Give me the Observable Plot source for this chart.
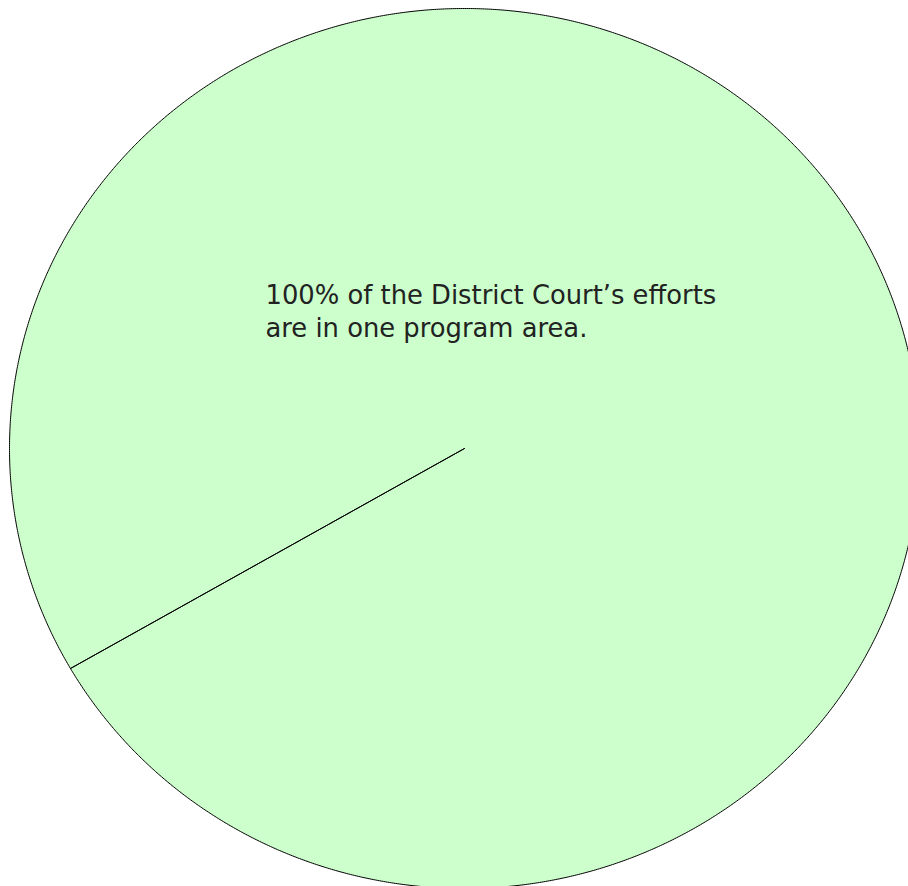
<!DOCTYPE html>
<html>
<head>
<meta charset="utf-8">
<script src="https://cdn.jsdelivr.net/npm/d3@7"></script>
<script src="https://cdn.jsdelivr.net/npm/@observablehq/plot@0.6"></script>
<style>
  html, body { margin: 0; padding: 0; background: #fff; }
  #chart { width: 908px; height: 886px; overflow: hidden; }
</style>
</head>
<body>
<div id="chart"></div>
<script>
// Data
const categories = ["District Court"];
const values = [100];
const labels = ["100% of the District Court’s efforts\nare in one program area."];
const colors = ["#ccffcc"];

// Pie layout (angles from the data)
const pie = d3.pie().sort(null).value(d => d.value)
  .startAngle(4 * Math.PI / 3).endAngle(4 * Math.PI / 3 + 2 * Math.PI);
const arcs = pie(categories.map((c, i) => ({category: c, value: values[i]})));

// Outline of each slice on the unit circle: center -> arc -> center
const slicePoints = arcs.flatMap(a => {
  const n = Math.max(2, Math.ceil((a.endAngle - a.startAngle) / (2 * Math.PI) * 1440));
  const pts = [{category: a.data.category, x: 0, y: 0}];
  for (let k = 0; k <= n; ++k) {
    const t = a.startAngle + (a.endAngle - a.startAngle) * k / n;
    pts.push({category: a.data.category, x: Math.sin(t), y: Math.cos(t)});
  }
  pts.push({category: a.data.category, x: 0, y: 0});
  return pts;
});

const chart = Plot.plot({
  width: 908,
  height: 886,
  margin: 0,
  x: {domain: [-1, 1], range: [9, 919], axis: null},
  y: {domain: [-1, 1], range: [888, 8], axis: null},
  color: {domain: categories, range: colors},
  style: {background: "transparent", overflow: "hidden"},
  marks: [
    Plot.line(slicePoints, {
      x: "x", y: "y", z: "category",
      fill: "category",
      stroke: "#000",
      strokeWidth: 1,
      strokeLinejoin: "round",
      curve: "linear"
    }),
    Plot.text(labels, {
      text: d => d,
      frameAnchor: "top-left",
      textAnchor: "start",
      lineAnchor: "top",
      dx: 265,
      dy: 280,
      fontSize: 25.8,
      lineHeight: 1.28,
      fill: "#222",
      fontFamily: "DejaVu Sans"
    })
  ]
});
document.getElementById("chart").appendChild(chart);
</script>
</body>
</html>
